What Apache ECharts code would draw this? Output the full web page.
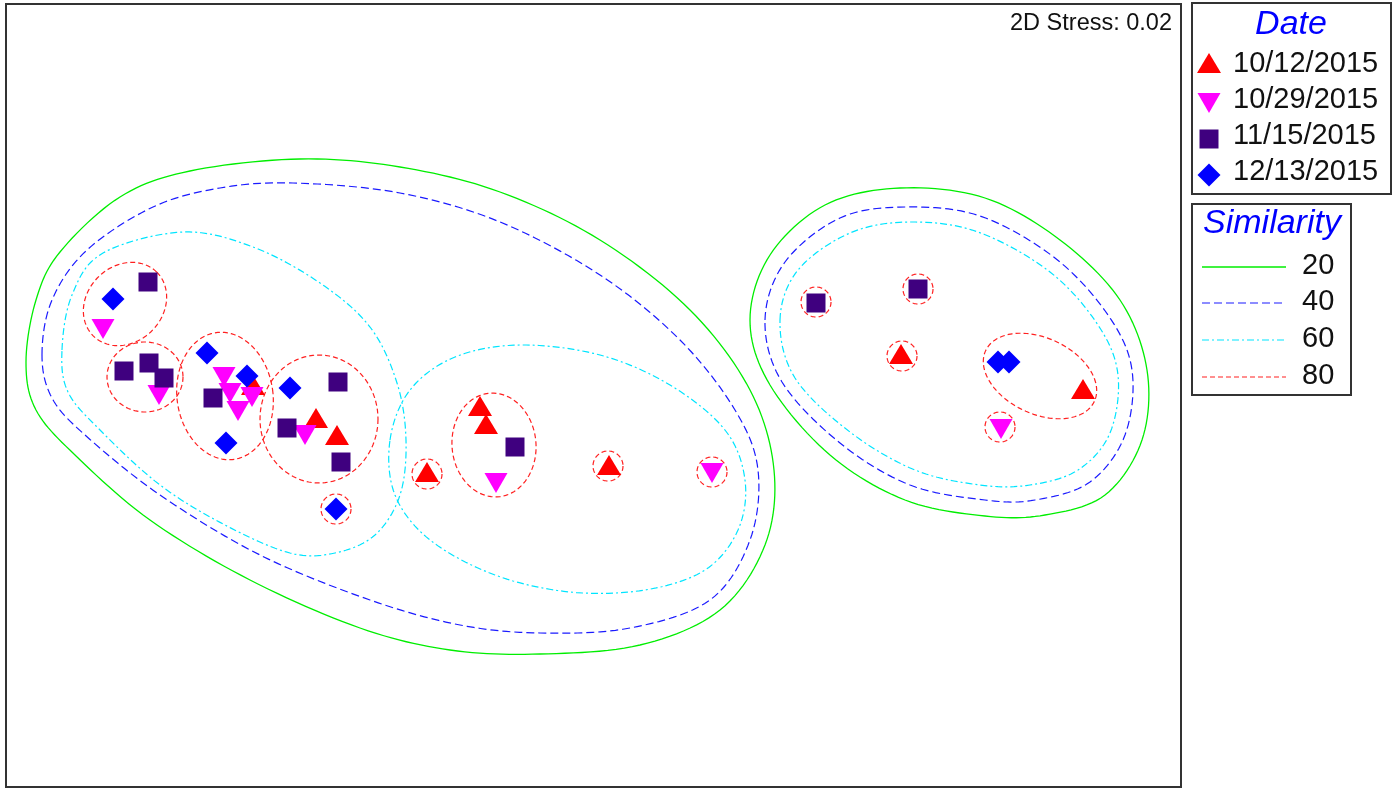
<!DOCTYPE html>
<html>
<head>
<meta charset="utf-8">
<title>nMDS ordination</title>
<script src="https://cdn.jsdelivr.net/npm/echarts@6/dist/echarts.min.js"></script>
<style>
  html, body { margin: 0; padding: 0; background: #fff; }
  #chart { width: 1400px; height: 788px; }
</style>
</head>
<body>
<div id="chart"></div>
<script>
// ---- ordination scores (plot units) ----
const dateLabels = ['10/12/2015', '10/29/2015', '11/15/2015', '12/13/2015'];

const scores1012 = [[253, 385], [316, 418], [337, 435], [427, 472], [480, 406], [486, 424], [609, 465], [901, 354], [1083, 389]];
const scores1029 = [[103, 329], [159, 395], [224, 377], [230, 393], [252, 397], [238, 411], [305, 435], [496, 483], [712, 473], [1001, 429]];
const scores1115 = [[148, 282], [124, 371], [149, 363], [164, 378], [213, 398], [338, 382], [287, 428], [341, 462], [515, 447], [816, 303], [918, 289]];
const scores1213 = [[113, 299], [207, 353], [247, 376], [226, 443], [290, 388], [336, 509], [998, 362], [1009, 362]];

const stressLabel = '2D Stress: 0.02';

// ---- cluster similarity contours ----
const similarityLevels = ['20', '40', '60', '80'];

const contours20 = [
  [[26, 362], [36, 300], [60, 252], [120, 197], [190, 171], [300, 159], [400, 167], [500, 192], [600, 240], [690, 310], [750, 390], [774, 470], [765, 545], [720, 610], [640, 645], [540, 654], [450, 650], [360, 628], [250, 580], [150, 520], [75, 455], [36, 410]],
  [[750, 320], [770, 255], [825, 205], [900, 188], [985, 198], [1060, 240], [1120, 300], [1147, 370], [1142, 440], [1105, 495], [1045, 515], [985, 516], [905, 500], [830, 455], [770, 385]]
];
const contours40 = [
  [[42, 355], [52, 300], [87, 250], [153, 207], [220, 188], [293, 183], [400, 193], [500, 222], [600, 275], [680, 340], [735, 410], [758, 470], [750, 540], [710, 600], [630, 628], [540, 633], [460, 625], [370, 600], [260, 555], [160, 495], [85, 435], [52, 398]],
  [[765, 320], [785, 262], [840, 218], [905, 207], [980, 216], [1055, 258], [1108, 315], [1132, 370], [1125, 435], [1090, 482], [1035, 500], [985, 500], [910, 485], [840, 443], [782, 382]]
];
const contours60 = [
  [[62, 350], [72, 295], [103, 253], [183, 232], [253, 247], [320, 283], [370, 327], [397, 383], [406, 440], [400, 495], [375, 535], [335, 553], [290, 553], [225, 525], [160, 485], [100, 430], [68, 392]],
  [[390, 440], [410, 390], [455, 357], [520, 345], [600, 355], [670, 385], [725, 430], [745, 480], [738, 530], [705, 570], [645, 590], [570, 592], [495, 575], [430, 540], [395, 495]],
  [[780, 320], [798, 270], [850, 233], [910, 222], [978, 232], [1050, 272], [1098, 325], [1118, 375], [1110, 433], [1078, 470], [1030, 485], [980, 485], [915, 470], [850, 432], [795, 378]]
];
// centre x, centre y, radius x, radius y, tilt (deg)
const contours80 = [
  [125, 304, 45, 38, -45], [145, 377, 38, 35, 0], [225, 396, 48, 64, -8], [319, 419, 59, 64, 0],
  [494, 445, 42, 52, -5], [1040, 376, 60, 38, 25],
  [336, 509, 15, 15, 0], [427, 474, 15, 15, 0], [608, 466, 15, 15, 0], [712, 472, 15, 15, 0],
  [816, 302, 15, 15, 0], [918, 289, 15, 15, 0], [902, 356, 15, 15, 0], [1000, 427, 15, 15, 0]
];

// ---- styling ----
const FONT = '"Liberation Sans", Arial, sans-serif';
const markerColors = ['#ff0000', '#ff00ff', '#3f007f', '#0000ff'];
const markerSymbols = ['triangle', 'path://M0,0L2,0L1,2Z', 'rect', 'diamond'];
const markerSizes = [[24, 20], [23, 20], [19, 19], [23, 23]];
const levelStyles = [
  { stroke: '#00ee00', lineWidth: 1.3, lineDash: null },
  { stroke: '#1a1aff', lineWidth: 1.2, lineDash: [8, 4] },
  { stroke: '#00e5ff', lineWidth: 1.2, lineDash: [7, 3, 2, 3] },
  { stroke: '#ff2020', lineWidth: 1.2, lineDash: [5, 3] }
];

const scoreSets = [scores1012, scores1029, scores1115, scores1213];

// closed Catmull-Rom curve through the outline's vertices
function closedSpline(pts, steps) {
  const n = pts.length, out = [];
  for (let i = 0; i < n; i++) {
    const p0 = pts[(i - 1 + n) % n], p1 = pts[i], p2 = pts[(i + 1) % n], p3 = pts[(i + 2) % n];
    for (let s = 0; s < steps; s++) {
      const t = s / steps, t2 = t * t, t3 = t2 * t;
      const f = k => 0.5 * (2 * p1[k] + (-p0[k] + p2[k]) * t + (2 * p0[k] - 5 * p1[k] + 4 * p2[k] - p3[k]) * t2 + (-p0[k] + 3 * p1[k] - 3 * p2[k] + p3[k]) * t3);
      out.push([f(0), f(1)]);
    }
  }
  return out;
}

function outlineSeries(name, outlines, st) {
  return {
    type: 'custom', name: name, coordinateSystem: 'cartesian2d', silent: true, z: 2,
    data: outlines.map(o => o[0]),
    renderItem: function (params, api) {
      const pts = closedSpline(outlines[params.dataIndex], 12).map(p => api.coord(p));
      return {
        type: 'polygon',
        shape: { points: pts },
        style: { fill: 'none', stroke: st.stroke, lineWidth: st.lineWidth, lineDash: st.lineDash }
      };
    }
  };
}

function ellipseSeries(name, ellipses, st) {
  return {
    type: 'custom', name: name, coordinateSystem: 'cartesian2d', silent: true, z: 2,
    data: ellipses.map(e => [e[0], e[1]]),
    renderItem: function (params, api) {
      const e = ellipses[params.dataIndex];
      const th = e[4] * Math.PI / 180;
      const pts = [];
      for (let k = 0; k < 90; k++) {
        const t = k / 90 * Math.PI * 2;
        const dx = e[2] * Math.cos(t), dy = e[3] * Math.sin(t);
        pts.push(api.coord([e[0] + dx * Math.cos(th) - dy * Math.sin(th),
                            e[1] + dx * Math.sin(th) + dy * Math.cos(th)]));
      }
      return {
        type: 'polygon',
        shape: { points: pts },
        style: { fill: 'none', stroke: st.stroke, lineWidth: st.lineWidth, lineDash: st.lineDash }
      };
    }
  };
}

const series = [
  outlineSeries(similarityLevels[0], contours20, levelStyles[0]),
  outlineSeries(similarityLevels[1], contours40, levelStyles[1]),
  outlineSeries(similarityLevels[2], contours60, levelStyles[2]),
  ellipseSeries(similarityLevels[3], contours80, levelStyles[3])
];
dateLabels.forEach((lab, i) => {
  series.push({
    type: 'scatter', name: lab, z: 3, silent: true,
    symbol: markerSymbols[i], symbolSize: markerSizes[i],
    itemStyle: { color: markerColors[i], opacity: 1 },
    data: scoreSets[i]
  });
});

// ---- legend boxes ----
const graphics = [];
graphics.push({ type: 'text', x: 1172, y: 24,
  style: { text: stressLabel, font: '23.5px ' + FONT, fill: '#111', align: 'right', verticalAlign: 'middle' } });

graphics.push({ type: 'rect', shape: { x: 1192, y: 3, width: 199, height: 191 },
  style: { fill: '#fff', stroke: '#333', lineWidth: 2 } });
graphics.push({ type: 'text', x: 1291, y: 25,
  style: { text: 'Date', font: 'italic 34px ' + FONT, fill: '#0000ff', align: 'center', verticalAlign: 'middle' } });

const rowY = [64, 100, 136, 172];
const iconX = 1209;
dateLabels.forEach((lab, i) => {
  const y = rowY[i];
  const w = markerSizes[i][0] / 2, h = markerSizes[i][1] / 2;
  let icon;
  if (i === 0) icon = { type: 'polygon', shape: { points: [[iconX, y - 1 - h], [iconX + w, y - 1 + h], [iconX - w, y - 1 + h]] } };
  else if (i === 1) icon = { type: 'polygon', shape: { points: [[iconX - w, y - h + 3], [iconX + w, y - h + 3], [iconX, y + h + 3]] } };
  else if (i === 2) icon = { type: 'rect', shape: { x: iconX - w, y: y + 3 - h, width: 2 * w, height: 2 * h } };
  else icon = { type: 'polygon', shape: { points: [[iconX, y + 3 - h], [iconX + w, y + 3], [iconX, y + 3 + h], [iconX - w, y + 3]] } };
  icon.style = { fill: markerColors[i] };
  graphics.push(icon);
  graphics.push({ type: 'text', x: 1233, y: y,
    style: { text: lab, font: '29px ' + FONT, fill: '#111', align: 'left', verticalAlign: 'middle' } });
});

graphics.push({ type: 'rect', shape: { x: 1192, y: 204, width: 159, height: 191 },
  style: { fill: '#fff', stroke: '#333', lineWidth: 2 } });
graphics.push({ type: 'text', x: 1272, y: 224,
  style: { text: 'Similarity', font: 'italic 34px ' + FONT, fill: '#0000ff', align: 'center', verticalAlign: 'middle' } });
const simRowY = [267, 303, 340, 377];
similarityLevels.forEach((lab, i) => {
  const st = levelStyles[i];
  graphics.push({ type: 'line', shape: { x1: 1202, y1: simRowY[i], x2: 1286, y2: simRowY[i] },
    style: { stroke: st.stroke, lineWidth: st.lineWidth, lineDash: st.lineDash } });
  graphics.push({ type: 'text', x: 1302, y: simRowY[i] - 1,
    style: { text: lab, font: '29px ' + FONT, fill: '#111', align: 'left', verticalAlign: 'middle' } });
});

const chart = echarts.init(document.getElementById('chart'), null, { renderer: 'canvas' });
chart.setOption({
  animation: false,
  backgroundColor: '#fff',
  grid: { left: 6, top: 4, width: 1175, height: 783, show: true, borderColor: '#333', borderWidth: 2, backgroundColor: '#fff' },
  xAxis: { type: 'value', min: 6, max: 1181, show: false },
  yAxis: { type: 'value', min: 4, max: 787, inverse: true, show: false },
  series: series,
  graphic: graphics
});
</script>
</body>
</html>
